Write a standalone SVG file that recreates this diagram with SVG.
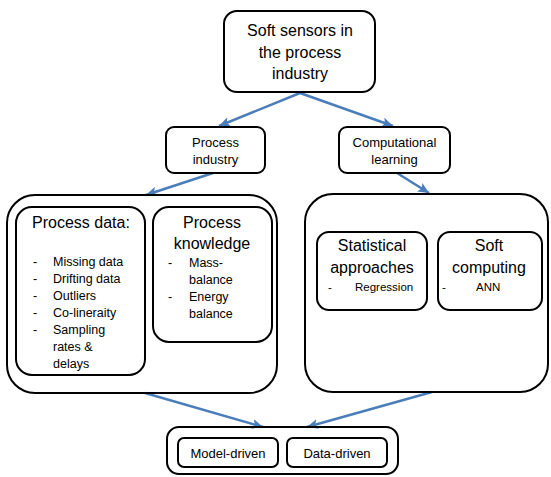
<svg xmlns="http://www.w3.org/2000/svg" width="551" height="477" viewBox="0 0 551 477">
<style>
.box{fill:#fff;stroke:#000;stroke-width:2}
.big{fill:none;stroke:#000;stroke-width:2}
text{font-family:"Liberation Sans",Arial,sans-serif;fill:#000}
.t16{font-size:16px}
.t13{font-size:13px}
.t12{font-size:12.5px}
.t11{font-size:11.5px}
.c{text-anchor:middle}
.arr{stroke:#4A7EBB;stroke-width:2.5;fill:none;marker-end:url(#ah)}
</style>
<defs>
<marker id="ah" markerUnits="userSpaceOnUse" markerWidth="12" markerHeight="10" viewBox="0 0 12 10" refX="11" refY="5" orient="auto">
<path d="M0,0 L11,5 L0,10 L2.5,5 Z" fill="#4A7EBB"/>
</marker>
</defs>
<rect width="551" height="477" fill="#fff"/>
<g id="connectors">
<line class="arr" x1="300" y1="93" x2="219" y2="126"/>
<line class="arr" x1="300" y1="93" x2="393" y2="126"/>
<line class="arr" x1="213" y1="173" x2="146" y2="195"/>
<line class="arr" x1="397" y1="173" x2="429" y2="193"/>
<line class="arr" x1="145" y1="393" x2="263" y2="427"/>
<line class="arr" x1="432" y1="392" x2="307" y2="427"/>
</g>
<g id="soft-sensors">
<rect class="box" x="224" y="11" width="151" height="81" rx="13"/>
<text class="t16 c" x="300" y="36">Soft sensors in</text>
<text class="t16 c" x="300" y="58">the process</text>
<text class="t16 c" x="300" y="79">industry</text>
</g>
<g id="process-industry">
<rect class="box" x="166" y="127" width="99" height="46" rx="8"/>
<text class="t13 c" x="215.5" y="146.5">Process</text>
<text class="t13 c" x="215.5" y="163.5">industry</text>
</g>
<g id="computational-learning">
<rect class="box" x="339" y="127" width="111" height="46" rx="8"/>
<text class="t13 c" x="394.5" y="146.5">Computational</text>
<text class="t13 c" x="394.5" y="163.5">learning</text>
</g>
<g id="process-group">
<rect class="big" x="7" y="195" width="270" height="198" rx="28"/>
</g>
<g id="process-data">
<rect class="box" x="16" y="207" width="129" height="168" rx="16"/>
<text class="t16" x="32" y="228">Process data:</text>
<g class="t12">
<text x="33" y="266">-</text><text x="53" y="266">Missing data</text>
<text x="33" y="283">-</text><text x="53" y="283">Drifting data</text>
<text x="33" y="300">-</text><text x="53" y="300">Outliers</text>
<text x="33" y="317">-</text><text x="53" y="317">Co-lineraity</text>
<text x="33" y="334">-</text><text x="53" y="334">Sampling</text>
<text x="53" y="351">rates &amp;</text>
<text x="53" y="368">delays</text>
</g>
</g>
<g id="process-knowledge">
<rect class="box" x="153" y="207" width="119" height="135" rx="16"/>
<text class="t16 c" x="212" y="228">Process</text>
<text class="t16 c" x="212" y="249">knowledge</text>
<g class="t12">
<text x="168" y="267">-</text><text x="189" y="267">Mass-</text>
<text x="189" y="284">balance</text>
<text x="168" y="301">-</text><text x="189" y="301">Energy</text>
<text x="189" y="318">balance</text>
</g>
</g>
<g id="learning-group">
<rect class="big" x="305" y="194" width="243" height="198" rx="28"/>
</g>
<g id="statistical-approaches">
<rect class="box" x="317" y="232" width="110" height="78" rx="12"/>
<text class="t16 c" x="372" y="251">Statistical</text>
<text class="t16 c" x="372" y="273">approaches</text>
<text class="t11" x="328" y="291">-</text>
<text class="t11" x="355" y="291">Regression</text>
</g>
<g id="soft-computing">
<rect class="box" x="438" y="232" width="104" height="78" rx="12"/>
<text class="t16 c" x="489" y="251">Soft</text>
<text class="t16 c" x="489" y="273">computing</text>
<text class="t11" x="442" y="291">-</text>
<text class="t11" x="476" y="291">ANN</text>
</g>
<g id="outcome-group">
<rect class="big" x="167" y="427" width="231" height="47" rx="12"/>
</g>
<g id="model-driven">
<rect class="box" x="178" y="438" width="100" height="29" rx="6"/>
<text class="t13 c" x="228" y="457.5">Model-driven</text>
</g>
<g id="data-driven">
<rect class="box" x="287" y="438" width="100" height="29" rx="6"/>
<text class="t13 c" x="337" y="457.5">Data-driven</text>
</g>
</svg>
